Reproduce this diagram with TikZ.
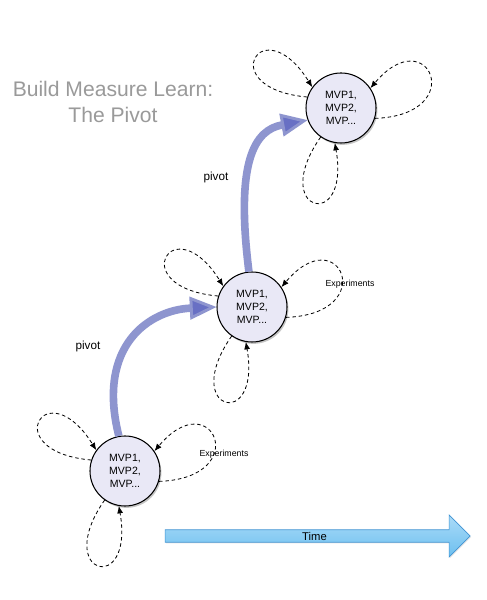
\documentclass[tikz,border=0pt]{standalone}
\usepackage{fontspec}
\setmainfont{Liberation Sans}
\usetikzlibrary{arrows.meta,shadows,shapes.arrows}

\definecolor{mvpfill}{HTML}{E9E8F6}
\definecolor{pivotblue}{HTML}{8E95CF}
\definecolor{pivothead}{HTML}{6870C4}
\definecolor{timetop}{HTML}{ABDBF8}
\definecolor{timebot}{HTML}{6CBFEF}
\definecolor{timeedge}{HTML}{3F93D3}
\definecolor{titlegray}{HTML}{9A9A9A}

\begin{document}
\begin{tikzpicture}[
  x=0.03cm,
  y=0.03cm,
  mvp/.style={circle, draw=black, line width=0.9pt, fill=mvpfill,
    minimum size=2.1cm, inner sep=0pt, align=center,
    font=\fontsize{9}{10.8}\selectfont,
    drop shadow={opacity=0.45, shadow xshift=1.2pt, shadow yshift=-1.6pt}},
  exploop/.style={dash pattern=on 3pt off 2.4pt, line width=0.7pt,
    -{Latex[length=2.2mm, width=1.8mm]}},
  pivotline/.style={pivotblue, line width=6.5pt,
    -{Triangle[length=0.8cm, width=0.68cm, fill=pivothead, line width=2.5pt]}},
  smalllabel/.style={font=\fontsize{7.5}{9}\selectfont},
  pivotlabel/.style={font=\fontsize{10}{12}\selectfont}
]

% White background
\fill[white] (0,0) rectangle (487,600);
\useasboundingbox (0,0) rectangle (487,600);

% Title
\node[align=center, text=titlegray, font=\fontsize{18}{21.5}\selectfont] (title) at (113,498)
  {Build Measure Learn:\\The Pivot};

% MVP circles
\node[mvp] (mvpA) at (125,129) {MVP1,\\MVP2,\\MVP...};
\node[mvp] (mvpB) at (252,293) {MVP1,\\MVP2,\\MVP...};
\node[mvp] (mvpC) at (341,492) {MVP1,\\MVP2,\\MVP...};

% Experiment loops
\foreach \n in {mvpA,mvpB,mvpC} {
  \draw[exploop] (\n.162) .. controls +(175:95) and +(122:95) .. (\n.144);
  \draw[exploop] (\n.-17) .. controls +(2:95) and +(50:90) .. (\n.34);
  \draw[exploop] (\n.235) .. controls +(235:92) and +(280:92) .. (\n.260);
}

\node[smalllabel] (expA) at (224,146) {Experiments};
\node[smalllabel] (expB) at (350,316) {Experiments};

% Pivot arrows
\draw[pivotline] (mvpA.100) .. controls (96,255) and (150,290) .. (mvpB.180);
\draw[pivotline] (mvpB.95) .. controls (235,440) and (255,470) .. (mvpC.200);

\node[pivotlabel] (pivotA) at (88,254) {pivot};
\node[pivotlabel] (pivotB) at (216,423) {pivot};

% Time arrow
\node[single arrow, draw=timeedge, line width=0.6pt,
  top color=timetop, bottom color=timebot,
  minimum height=9.15cm, minimum width=1.26cm,
  single arrow head extend=0.32cm, inner sep=0pt,
  font=\fontsize{9.6}{11}\selectfont,
  drop shadow={opacity=0.2, shadow xshift=0.8pt, shadow yshift=-1pt}]
  (time) at (314.5,64) {Time};

\end{tikzpicture}
\end{document}
